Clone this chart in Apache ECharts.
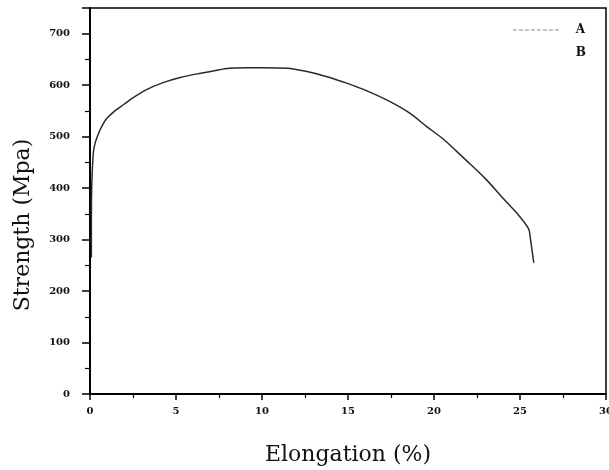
<!DOCTYPE html>
<html>
<head>
<meta charset="utf-8">
<script src="https://cdn.jsdelivr.net/npm/echarts@6/dist/echarts.min.js"></script>
<style>html,body{margin:0;padding:0;background:#fff;}#c{width:609px;height:470px;}</style>
</head>
<body>
<div id="c"></div>
<script>
const elongation = [0.08, 0.08, 0.1, 0.19, 0.29, 0.39, 0.58, 0.8, 0.96, 1.48, 1.98, 2.47, 3.26, 4.25, 5.24, 6.22, 7.21, 8.1, 9.09, 10.08, 11.46, 12.55, 13.73, 14.92, 16.1, 17.39, 18.57, 19.56, 20.55, 21.3, 22.1, 23.0, 24.0, 24.8, 25.5, 25.6, 25.8];
const strengthA = [265, 330, 400, 468, 487, 497, 513, 527, 535, 551, 563, 575, 591, 605, 615, 622, 628, 633, 634, 634, 633, 627, 617, 604, 589, 569, 546, 520, 495, 472, 447, 418, 381, 352, 321, 303, 255];
const seriesNames = ['A', 'B'];
const xTicks = [0, 5, 10, 15, 20, 25, 30];
const yTicks = [0, 100, 200, 300, 400, 500, 600, 700];

const chart = echarts.init(document.getElementById('c'), null, {renderer: 'canvas'});
const serif = 'DejaVu Serif';
chart.setOption({
  backgroundColor: '#fff',
  animation: false,
  grid: {left: 90, right: 3, top: 8, bottom: 76, show: true, borderColor: '#000', borderWidth: 1.5,
         containLabel: false, outerBoundsMode: 'none'},
  legend: {
    show: true,
    orient: 'vertical', right: 18, top: 19, align: 'left',
    itemWidth: 46, itemHeight: 10, itemGap: 11,
    textStyle: {fontFamily: serif, fontWeight: 'bold', fontSize: 12, color: '#111', padding: [0, 0, 0, 12]},
    data: [
      {name: 'A', itemStyle: {color: 'rgba(255,255,255,0)', borderWidth: 0, opacity: 0},
       lineStyle: {color: '#888', width: 1, type: 'dashed'}},
      {name: 'B', itemStyle: {color: 'rgba(255,255,255,0)', borderWidth: 0, opacity: 0},
       lineStyle: {color: 'rgba(255,255,255,0)', width: 0}}
    ]
  },
  xAxis: {
    type: 'value', min: 0, max: 30, interval: 5,
    name: 'Elongation (%)', nameLocation: 'middle', nameGap: 50,
    nameTextStyle: {fontFamily: serif, fontSize: 22, color: '#111'},
    axisLine: {show: true, lineStyle: {color: '#000', width: 2}},
    axisTick: {show: true, inside: false, length: 6, lineStyle: {color: '#000', width: 1.5}},
    minorTick: {show: true, splitNumber: 2, length: 4, lineStyle: {color: '#000', width: 1.2}},
    splitLine: {show: false},
    axisLabel: {fontFamily: serif, fontWeight: 'bold', fontSize: 10, color: '#111', margin: 12,
      formatter: v => xTicks.includes(v) ? String(v) : ''}
  },
  yAxis: {
    type: 'value', min: 0, max: 750, interval: 100,
    name: 'Strength (Mpa)', nameLocation: 'middle', nameGap: 56,
    nameTextStyle: {fontFamily: serif, fontSize: 22, color: '#111', padding: [0, 48, 0, 0]},
    axisLine: {show: true, lineStyle: {color: '#000', width: 2}},
    axisTick: {show: true, inside: false, length: 8, lineStyle: {color: '#000', width: 1.5}},
    minorTick: {show: true, splitNumber: 2, length: 5, lineStyle: {color: '#000', width: 1.2}},
    splitLine: {show: false},
    axisLabel: {fontFamily: serif, fontWeight: 'bold', fontSize: 10, color: '#111', margin: 20,
      showMaxLabel: false, formatter: v => yTicks.includes(v) ? String(v) : ''}
  },
  series: [
    {name: seriesNames[0], type: 'line', symbol: 'none', smooth: 0.3,
     data: elongation.map((x, i) => [x, strengthA[i]]),
     itemStyle: {color: '#2a2a2a'},
     lineStyle: {color: '#2a2a2a', width: 1.5}},
    {name: seriesNames[1], type: 'line', symbol: 'none', data: [[null, null]],
     itemStyle: {color: 'rgba(255,255,255,0)'},
     lineStyle: {color: 'rgba(255,255,255,0)', width: 1}}
  ]
});
</script>
</body>
</html>
